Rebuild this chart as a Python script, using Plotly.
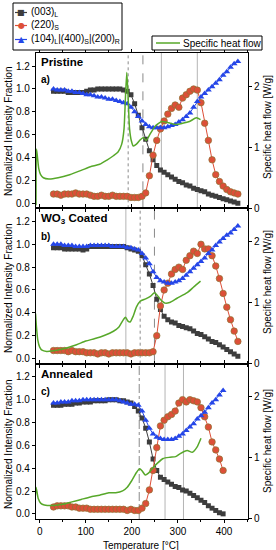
import plotly.graph_objects as go
from plotly.subplots import make_subplots

# ---------------- data ----------------
temps_ab = list(range(30, 431, 8))   # measurement temperatures, panels a & b
temps_c = list(range(30, 399, 8))    # measurement temperatures, panel c

a_003 = [0.98, 0.98, 0.98, 0.98, 0.97, 0.97, 0.97, 0.97, 0.97, 0.98,
         0.99, 0.99, 1.00, 1.00, 1.00, 1.00, 1.00, 1.00, 1.00, 0.99,
         0.98, 0.95, 0.87, 0.77, 0.66, 0.56, 0.46, 0.38, 0.33, 0.29,
         0.27, 0.25, 0.23, 0.21, 0.19, 0.18, 0.16, 0.15, 0.13, 0.12,
         0.11, 0.10, 0.08, 0.07, 0.06, 0.05, 0.04, 0.03, 0.02, 0.01,
         0.00]
a_220 = [0.08, 0.08, 0.07, 0.08, 0.08, 0.08, 0.09, 0.08, 0.08, 0.08,
         0.07, 0.06, 0.06, 0.07, 0.06, 0.06, 0.07, 0.06, 0.06, 0.06,
         0.06, 0.05, 0.05, 0.05, 0.06, 0.09, 0.24, 0.42, 0.55, 0.65,
         0.72, 0.78, 0.83, 0.86, 0.84, 0.92, 0.95, 0.98, 1.00, 0.99,
         0.88, 0.70, 0.55, 0.38, 0.25, 0.19, 0.15, 0.12, 0.10, 0.09,
         0.08]
a_104 = [1.00, 0.99, 0.99, 0.99, 0.98, 0.98, 0.97, 0.97, 0.96, 0.95,
         0.95, 0.94, 0.93, 0.93, 0.92, 0.91, 0.91, 0.90, 0.89, 0.88,
         0.87, 0.84, 0.80, 0.76, 0.72, 0.69, 0.67, 0.66, 0.66, 0.66,
         0.66, 0.67, 0.68, 0.69, 0.71, 0.73, 0.76, 0.79, 0.84, 0.89,
         0.93, 0.96, 0.99, 1.02, 1.05, 1.08, 1.12, 1.15, 1.19, 1.22,
         1.24]
a_heat_t = [-8, -7, -5, -2, 2, 8, 20, 40, 65, 90, 110, 130, 146, 160, 170,
            178, 183, 186, 189, 192, 195, 199, 203, 210, 218, 225, 231, 240,
            250, 265, 280, 295, 310, 325, 340, 349]
a_heat = [0.05, 0.97, 0.85, 0.65, 0.55, 0.50, 0.48, 0.50, 0.55, 0.62, 0.68,
          0.72, 0.79, 0.86, 0.92, 1.05, 1.30, 1.80, 2.22, 1.80, 1.30, 1.10,
          1.02, 1.05, 1.12, 1.16, 1.11, 1.22, 1.34, 1.42, 1.40, 1.37, 1.39,
          1.42, 1.48, 1.45]

b_003 = [0.97, 0.97, 0.97, 0.96, 0.96, 0.96, 0.96, 0.96, 0.95, 0.96,
         0.98, 0.98, 0.98, 0.98, 0.98, 0.98, 0.98, 0.98, 0.98, 0.98,
         0.97, 0.96, 0.95, 0.94, 0.90, 0.82, 0.74, 0.64, 0.52, 0.43,
         0.37, 0.34, 0.32, 0.31, 0.29, 0.28, 0.27, 0.26, 0.24, 0.22,
         0.21, 0.19, 0.17, 0.15, 0.14, 0.12, 0.10, 0.08, 0.06, 0.04,
         0.02]
b_220 = [0.07, 0.07, 0.07, 0.07, 0.06, 0.07, 0.06, 0.06, 0.06, 0.05,
         0.05, 0.05, 0.04, 0.05, 0.05, 0.04, 0.05, 0.05, 0.05, 0.05,
         0.05, 0.04, 0.05, 0.05, 0.05, 0.05, 0.05, 0.06, 0.20, 0.46,
         0.60, 0.66, 0.74, 0.78, 0.80, 0.78, 0.86, 0.90, 0.94, 0.92,
         1.00, 0.96, 0.96, 0.90, 0.81, 0.70, 0.57, 0.45, 0.34, 0.24,
         0.15]
b_104 = [1.00, 1.00, 1.00, 0.99, 0.99, 0.99, 0.98, 0.98, 0.98, 0.98,
         0.99, 0.99, 0.99, 0.99, 0.99, 0.99, 0.98, 0.98, 0.98, 0.98,
         0.97, 0.97, 0.96, 0.95, 0.92, 0.88, 0.83, 0.76, 0.71, 0.68,
         0.67, 0.66, 0.66, 0.67, 0.68, 0.70, 0.73, 0.76, 0.79, 0.82,
         0.85, 0.88, 0.92, 0.95, 0.99, 1.02, 1.05, 1.08, 1.10, 1.13,
         1.16]
b_heat_t = [-9, -7, -4, 0, 5, 15, 30, 45, 60, 80, 100, 120, 140, 160, 172,
            180, 186, 191, 196, 203, 210, 218, 230, 240, 249, 255, 262, 272,
            282, 298, 320, 335, 349]
b_heat = [0.82, 0.60, 0.38, 0.27, 0.22, 0.20, 0.21, 0.23, 0.26, 0.31, 0.37,
          0.41, 0.46, 0.53, 0.60, 0.70, 0.76, 0.70, 0.68, 0.78, 0.93, 1.02,
          1.06, 1.10, 1.16, 1.12, 1.05, 0.99, 1.00, 1.07, 1.16, 1.26, 1.35]

c_003 = [0.95, 0.95, 0.95, 0.96, 0.96, 0.96, 0.97, 0.97, 0.98, 0.98,
         0.98, 0.99, 0.99, 0.99, 0.99, 1.00, 1.00, 1.00, 0.99, 0.99,
         0.98, 0.97, 0.94, 0.90, 0.84, 0.75, 0.63, 0.48, 0.38, 0.32,
         0.30, 0.28, 0.26, 0.24, 0.23, 0.21, 0.20, 0.18, 0.16, 0.14,
         0.12, 0.10, 0.07, 0.05, 0.03, 0.01, 0.00]
c_220 = [0.06, 0.07, 0.07, 0.07, 0.07, 0.06, 0.06, 0.05, 0.05, 0.05,
         0.04, 0.04, 0.04, 0.04, 0.04, 0.04, 0.04, 0.04, 0.04, 0.04,
         0.03, 0.04, 0.03, 0.03, 0.05, 0.09, 0.21, 0.38, 0.58, 0.77,
         0.82, 0.85, 0.87, 0.90, 0.97, 1.00, 0.98, 1.00, 0.99, 0.98,
         0.93, 0.85, 0.76, 0.63, 0.56, 0.48, 0.38]
c_104 = [0.97, 0.97, 0.98, 0.98, 0.98, 0.99, 0.99, 0.99, 1.00, 1.00,
         1.00, 1.00, 1.00, 1.00, 1.00, 1.00, 1.00, 1.00, 0.99, 0.98,
         0.97, 0.96, 0.96, 0.95, 0.90, 0.82, 0.75, 0.70, 0.67, 0.66,
         0.65, 0.65, 0.65, 0.66, 0.68, 0.70, 0.73, 0.76, 0.79, 0.83,
         0.86, 0.89, 0.93, 0.97, 1.00, 1.04, 1.08]
c_heat_t = [-10, -8, -6, -3, 2, 10, 30, 50, 70, 90, 110, 130, 150, 165, 180,
            190, 200, 210, 217, 222, 229, 236, 245, 255, 268, 283, 295, 305,
            320, 331, 341, 350]
c_heat = [0.30, 0.52, 0.45, 0.33, 0.26, 0.23, 0.22, 0.24, 0.28, 0.32, 0.36,
          0.39, 0.43, 0.43, 0.46, 0.52, 0.63, 0.76, 0.82, 0.79, 0.72, 0.75,
          0.83, 0.91, 0.99, 1.01, 1.02, 1.07, 1.12, 1.09, 1.17, 1.32]

panel_titles = ["Pristine", "WO<sub>3</sub> Coated", "Annealed"]
panel_letters = ["a)", "b)", "c)"]
series_names = ["(003)<sub>L</sub>", "(220)<sub>S</sub>",
                "(104)<sub>L</sub>|(400)<sub>S</sub>|(200)<sub>R</sub>"]
heat_name = "Specific heat flow"

# reference temperature lines per panel: (temperature, dash style)
vlines = [
    [(192, "dot"), (224, "dash"), (264, "solid"), (342, "solid")],
    [(187, "solid"), (218, "dot"), (249, "dash")],
    [(216, "dashdot"), (272, "solid"), (312, "solid")],
]

x_ticks = [0, 100, 200, 300, 400]
left_ticks = [0.0, 0.2, 0.4, 0.6, 0.8, 1.0, 1.2]
right_ticks = [0, 1, 2]

# ---------------- styles ----------------
FONT = "Liberation Sans, Arial, sans-serif"
C_BLACK = "#3d3d3d"
C_RED = "#dd4f38"
C_RED_EDGE = "#8c7434"
C_BLUE = "#2546e8"
C_GREEN = "#57a82a"
C_VLINE = "#8a8a8a"

PL, PR, PT, PB = 36, 248, 53, 519
W, H = 276, 550


def fx(px):
    return (px - PL) / (PR - PL)


def fy(py):
    return (PB - py) / (PB - PT)


fig = make_subplots(rows=3, cols=1, shared_xaxes=True, vertical_spacing=0,
                    specs=[[{"secondary_y": True}]] * 3)

panels = [
    (temps_ab, a_003, a_220, a_104, a_heat_t, a_heat),
    (temps_ab, b_003, b_220, b_104, b_heat_t, b_heat),
    (temps_c, c_003, c_220, c_104, c_heat_t, c_heat),
]

for i, (tt, s003, s220, s104, ht, hv) in enumerate(panels):
    r = i + 1
    fig.add_trace(go.Scatter(x=tt, y=s003, mode="lines+markers", name=series_names[0],
                             line=dict(color=C_BLACK, width=1),
                             marker=dict(symbol="square", size=5, color=C_BLACK),
                             showlegend=False), row=r, col=1, secondary_y=False)
    fig.add_trace(go.Scatter(x=tt, y=s220, mode="lines+markers", name=series_names[1],
                             line=dict(color=C_RED, width=1),
                             marker=dict(symbol="circle", size=6.5, color=C_RED,
                                         line=dict(color=C_RED_EDGE, width=0.7)),
                             showlegend=False), row=r, col=1, secondary_y=False)
    fig.add_trace(go.Scatter(x=tt, y=s104, mode="lines+markers", name=series_names[2],
                             line=dict(color=C_BLUE, width=1),
                             marker=dict(symbol="triangle-up", size=6, color=C_BLUE),
                             showlegend=False), row=r, col=1, secondary_y=False)
    fig.add_trace(go.Scatter(x=ht, y=hv, mode="lines", name=heat_name,
                             line=dict(color=C_GREEN, width=1.5, shape="spline", smoothing=0.6),
                             showlegend=False), row=r, col=1, secondary_y=True)
    for (t, d) in vlines[i]:
        fig.add_vline(x=t, row=r, col=1, layer="below",
                      line=dict(color=C_VLINE if d != "solid" else "#b4b4b4",
                                width=1, dash=d))

axis_common = dict(showline=True, linecolor="black", linewidth=1.2, ticks="outside",
                   ticklen=3, tickwidth=1, tickcolor="black", showgrid=False,
                   zeroline=False, tickfont=dict(family=FONT, size=10, color="black"))

fig.update_xaxes(range=[-8, 452], tickvals=x_ticks, mirror="ticks", domain=[0, 1],
                 minor=dict(dtick=50, ticklen=2, ticks="outside", tickcolor="black"),
                 **axis_common)
fig.update_xaxes(showticklabels=False, row=1, col=1)
fig.update_xaxes(showticklabels=False, row=2, col=1)
fig.update_xaxes(showticklabels=True, row=3, col=1)
fig.update_yaxes(range=[-0.045, 1.315], tickvals=left_ticks, tickformat=".1f",
                 secondary_y=False, **axis_common)
fig.update_yaxes(range=[0, 2.54], tickvals=right_ticks, secondary_y=True,
                 **axis_common)

annotations = []
shapes = []
# panel labels
label_y = [(62, 79), (219, 236), (374, 391)]
for i in range(3):
    annotations.append(dict(text="<b>%s</b>" % panel_titles[i], xref="paper", yref="paper",
                            x=fx(39), y=fy(label_y[i][0]), xanchor="left", yanchor="middle",
                            showarrow=False, font=dict(family=FONT, size=11.5, color="black")))
    annotations.append(dict(text="<b>%s</b>" % panel_letters[i], xref="paper", yref="paper",
                            x=fx(39), y=fy(label_y[i][1]), xanchor="left", yanchor="middle",
                            showarrow=False, font=dict(family=FONT, size=10, color="black")))
# axis titles
left_title_y = [131, 288, 444]
right_title_y = [127, 282, 441]
for i in range(3):
    annotations.append(dict(text="Normalized Intensity Fraction", xref="paper", yref="paper",
                            x=fx(8), y=fy(left_title_y[i]), textangle=-90, showarrow=False,
                            xanchor="center", yanchor="middle",
                            font=dict(family=FONT, size=10, color="black")))
    annotations.append(dict(text="Specific heat flow [W/g]", xref="paper", yref="paper",
                            x=fx(267), y=fy(right_title_y[i]), textangle=-90, showarrow=False,
                            xanchor="center", yanchor="middle",
                            font=dict(family=FONT, size=10, color="black")))
annotations.append(dict(text="Temperature [°C]", xref="paper", yref="paper",
                        x=fx(141), y=fy(545), showarrow=False, xanchor="center",
                        yanchor="middle", font=dict(family=FONT, size=10, color="black")))

# legend 1 (three XRD reflections)
shapes.append(dict(type="rect", xref="paper", yref="paper", x0=fx(13), x1=fx(122),
                   y0=fy(50), y1=fy(3), line=dict(color="black", width=1),
                   fillcolor="white"))
leg_rows = [(12.5, C_BLACK, "■", 8), (25.5, C_RED, "●", 8), (39.5, C_BLUE, "▲", 8)]
for k, (yy, col, glyph, gs) in enumerate(leg_rows):
    shapes.append(dict(type="line", xref="paper", yref="paper", x0=fx(15), x1=fx(27),
                       y0=fy(yy), y1=fy(yy), line=dict(color=col, width=1.2)))
    annotations.append(dict(text=glyph, xref="paper", yref="paper", x=fx(21), y=fy(yy),
                            xanchor="center", yanchor="middle", showarrow=False,
                            font=dict(family="DejaVu Sans", size=gs, color=col)))
    annotations.append(dict(text=series_names[k], xref="paper", yref="paper", x=fx(28.5),
                            y=fy(yy), xanchor="left", yanchor="middle", showarrow=False,
                            font=dict(family=FONT, size=10, color="black")))
# legend 2 (heat flow)
shapes.append(dict(type="rect", xref="paper", yref="paper", x0=fx(152), x1=fx(262),
                   y0=fy(50), y1=fy(36), line=dict(color="black", width=1),
                   fillcolor="white"))
shapes.append(dict(type="line", xref="paper", yref="paper", x0=fx(156), x1=fx(180),
                   y0=fy(43), y1=fy(43), line=dict(color=C_GREEN, width=1.5)))
annotations.append(dict(text=heat_name, xref="paper", yref="paper", x=fx(181),
                        y=fy(43), xanchor="left", yanchor="middle", showarrow=False,
                        font=dict(family=FONT, size=10, color="black")))

fig.update_layout(
    width=W, height=H,
    margin=dict(l=PL, r=W - PR, t=PT, b=H - PB, autoexpand=False),
    paper_bgcolor="white", plot_bgcolor="white",
    showlegend=False,
    font=dict(family=FONT, size=10, color="black"),
)
for a in annotations:
    fig.add_annotation(**a)
for s in shapes:
    fig.add_shape(**s)

fig.write_html("out.html", config={"displayModeBar": False},
               post_script="document.body.style.margin='0';document.body.style.overflow='hidden';")
